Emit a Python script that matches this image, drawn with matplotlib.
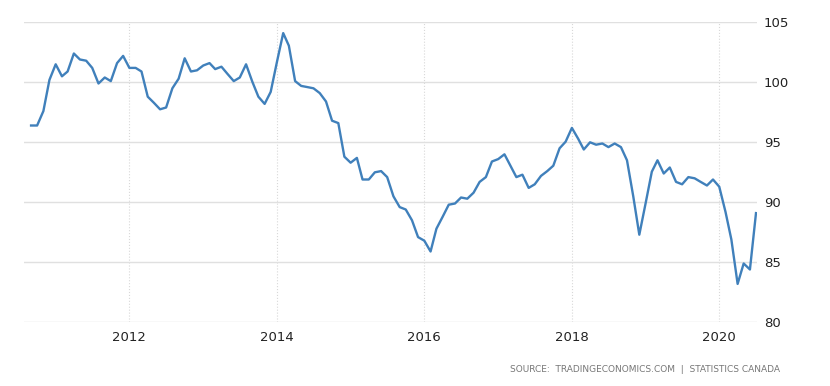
import matplotlib
matplotlib.use("Agg")
import matplotlib.pyplot as plt
import matplotlib.dates as mdates
import pandas as pd

# monthly values, Sep 2010 - Jul 2020
start = "2010-09-01"
values = [
    96.4, 96.4, 97.6, 100.2,
    101.5, 100.5, 100.9, 102.4, 101.9, 101.8, 101.2, 99.9, 100.4, 100.1, 101.6, 102.2,
    101.2, 101.2, 100.9, 98.8, 98.3, 97.75, 97.9, 99.5, 100.3, 102.0, 100.9, 101.0,
    101.4, 101.6, 101.1, 101.3, 100.7, 100.1, 100.4, 101.5, 100.05, 98.8, 98.2, 99.2,
    101.7, 104.1, 103.05, 100.1, 99.7, 99.6, 99.5, 99.1, 98.4, 96.8, 96.6, 93.8,
    93.3, 93.7, 91.9, 91.9, 92.5, 92.6, 92.1, 90.5, 89.6, 89.4, 88.5, 87.1,
    86.8, 85.9, 87.8, 88.8, 89.8, 89.9, 90.4, 90.3, 90.8, 91.7, 92.1, 93.4,
    93.6, 94.0, 93.1, 92.1, 92.3, 91.2, 91.5, 92.2, 92.6, 93.05, 94.5, 95.05,
    96.2, 95.3, 94.4, 95.0, 94.8, 94.9, 94.6, 94.9, 94.6, 93.5, 90.5, 87.3,
    89.9, 92.55, 93.5, 92.4, 92.9, 91.7, 91.5, 92.1, 92.0, 91.7, 91.4, 91.9,
    91.3, 89.2, 86.9, 83.2, 84.9, 84.4, 89.1,
]
dates = pd.date_range(start, periods=len(values), freq="MS")

year_ticks = [2012, 2014, 2016, 2018, 2020]
y_ticks = [80, 85, 90, 95, 100, 105]
source_text = "SOURCE:  TRADINGECONOMICS.COM  |  STATISTICS CANADA"

plt.rcParams['font.family'] = ['Liberation Sans Narrow', 'DejaVu Sans']

fig = plt.figure(figsize=(8.3, 3.86), dpi=100)
ax = fig.add_axes([24 / 830, 1 - 322.3 / 386, (757 - 24) / 830, 300 / 386])

ax.plot(dates, values, color='#4080bb', linewidth=1.7, solid_joinstyle='round')

ax.set_ylim(80, 105)
ax.set_xlim(pd.Timestamp("2010-07-28"), pd.Timestamp("2020-07-06"))

ax.set_yticks(y_ticks)
ax.set_xticks([pd.Timestamp(f"{y}-01-01") for y in year_ticks])
ax.xaxis.set_major_formatter(mdates.DateFormatter("%Y"))

ax.yaxis.tick_right()
ax.tick_params(axis='y', length=0, pad=5, labelsize=9.5, labelcolor='#222222')
ax.tick_params(axis='x', length=0, pad=6, labelsize=9.5, labelcolor='#222222')

ax.grid(axis='y', color='#e0e0e0', linewidth=1, linestyle='-')
ax.grid(axis='x', color='#d8d8d8', linewidth=0.8, linestyle=':')
ax.set_axisbelow(True)
for s in ax.spines.values():
    s.set_visible(False)

fig.text(780 / 830, 1 - 369 / 386, source_text, ha='right', va='center',
         fontsize=6.5, color='#777777')

fig.savefig("out.png", dpi=100)
